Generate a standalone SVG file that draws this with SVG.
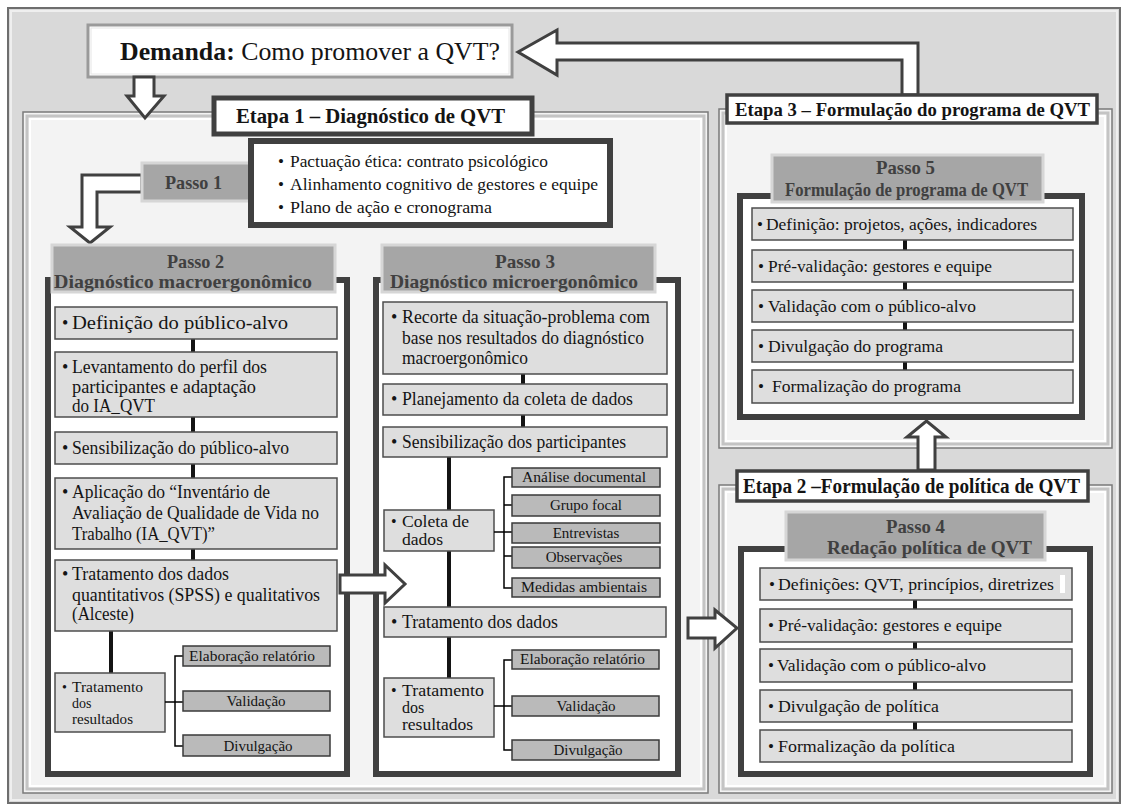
<svg xmlns="http://www.w3.org/2000/svg" width="1127" height="807" viewBox="0 0 1127 807">
<style>
.t{font-family:"Liberation Serif","DejaVu Serif",serif;font-size:18px;fill:#141414}
.s17{font-size:17px}
.s16{font-size:16px}
.s15{font-size:15px}
.s14{font-size:14px}
.b{font-weight:bold}
.h{font-family:"Liberation Serif","DejaVu Serif",serif;font-weight:bold;fill:#404040;font-size:19px}
.row{fill:#dedede;stroke:#4d4d4d;stroke-width:1.5}
.sub{fill:#bababa;stroke:#3a3a3a;stroke-width:1.5}
.hdr{fill:#a6a6a6;stroke:#d6d6d6;stroke-width:3}
.frame{fill:#fff;stroke:#404040;stroke-width:6}
.lbl{fill:#fff;stroke:#404040}
.conn{stroke:#141414;stroke-width:4}
.br{stroke:#000;stroke-width:1.5;fill:none}
.arrow{fill:#fff;stroke:#404040;stroke-width:3;stroke-linejoin:miter}
.panel{fill:#f3f3f3;stroke:#7a7a7a;stroke-width:1.5}
.bev{fill:none;stroke:#c4c4c4;stroke-width:3}
.bevw{fill:none;stroke:#ffffff;stroke-width:2}
</style>

<!-- background -->
<rect x="0" y="0" width="1127" height="807" fill="#ffffff"/>
<rect x="8" y="8" width="1112" height="795" fill="#d9d9d9" stroke="#6e6e6e" stroke-width="2"/>
<rect x="11" y="11" width="1106" height="789" fill="none" stroke="#efefef" stroke-width="2"/>

<!-- Etapa panels -->
<g id="etapa1-panel">
<rect class="panel" x="23" y="112" width="685" height="681"/>
<rect class="bev" x="27" y="116" width="677" height="673"/>
<rect class="bevw" x="30" y="119" width="671" height="667"/>
</g>
<g id="etapa3-panel">
<rect class="panel" x="719" y="109" width="393" height="339"/>
<rect class="bev" x="723" y="113" width="385" height="331"/>
<rect class="bevw" x="726" y="116" width="379" height="325"/>
</g>
<g id="etapa2-panel">
<rect class="panel" x="719" y="485" width="393" height="308"/>
<rect class="bev" x="723" y="489" width="385" height="300"/>
<rect class="bevw" x="726" y="492" width="379" height="294"/>
</g>

<!-- Demanda -->
<g id="demanda">
<rect x="88" y="25" width="424" height="52" fill="#fff" stroke="#9a9a9a" stroke-width="3"/>
<rect x="91" y="28" width="418" height="46" fill="none" stroke="#e6e6e6" stroke-width="1"/>
<text class="t" x="120" y="60" style="font-size:25px" textLength="380" lengthAdjust="spacingAndGlyphs"><tspan class="b">Demanda:</tspan> Como promover a QVT?</text>
</g>

<!-- Etapa labels -->
<g id="etapa1-label">
<rect class="lbl" x="214" y="98" width="318" height="36" stroke-width="5"/>
<text class="t b" x="236" y="123" style="font-size:20px" textLength="269" lengthAdjust="spacingAndGlyphs">Etapa 1  – Diagnóstico de QVT</text>
</g>

<!-- connectors / arrows -->
<g id="connectors">
<polygon class="arrow" points="134,77 154,77 154,96 164,96 145,118 127,96 134,96"/>
<polygon class="arrow" points="518,52 557,30 557,43 918,43 918,95 902,95 902,60 557,60 557,75"/>
<polygon class="arrow" points="142,175 82,175 82,227 70,227 90,243 110,227 97,227 97,192 142,192"/>
<polygon class="arrow" points="918,470 918,437 907,437 926.5,421 946,437 935,437 935,470"/>
</g>

<g id="etapa3-label">
<rect class="lbl" x="727" y="95" width="370" height="28" stroke-width="3.5"/>
<text class="t b" x="735" y="116" style="font-size:19px" textLength="355" lengthAdjust="spacingAndGlyphs">Etapa 3 – Formulação do programa de QVT</text>
</g>
<g id="etapa2-label">
<rect class="lbl" x="737" y="471" width="351" height="30" stroke-width="3.5"/>
<text class="t b" x="743" y="493" style="font-size:20px" textLength="337" lengthAdjust="spacingAndGlyphs">Etapa 2 –Formulação de política de  QVT</text>
</g>

<!-- Passo 1 -->
<g id="passo1">
<rect class="hdr" x="142" y="163" width="125" height="38"/>
<text class="h" x="165" y="189" textLength="57" lengthAdjust="spacingAndGlyphs">Passo 1</text>
</g>
<g id="passo1-itens">
<rect class="frame" x="251" y="141" width="359" height="84"/>
<text class="t s17" x="278" y="167">•</text>
<text class="t s17" x="290" y="167" textLength="258" lengthAdjust="spacingAndGlyphs">Pactuação ética: contrato psicológico</text>
<text class="t s17" x="278" y="190">•</text>
<text class="t s17" x="290" y="190" textLength="308" lengthAdjust="spacingAndGlyphs">Alinhamento cognitivo de gestores e equipe</text>
<text class="t s17" x="278" y="213">•</text>
<text class="t s17" x="290" y="213" textLength="202" lengthAdjust="spacingAndGlyphs">Plano  de ação e cronograma</text>
</g>

<!-- Passo 2 -->
<g id="passo2">
<rect class="frame" x="48" y="280" width="299" height="494"/>
<rect class="hdr" x="52" y="245" width="283" height="47"/>
<text class="h" x="167" y="268" textLength="57" lengthAdjust="spacingAndGlyphs">Passo 2</text>
<text class="h" x="54" y="288" textLength="258" lengthAdjust="spacingAndGlyphs">Diagnóstico  macroergonômico</text>
<line class="conn" x1="193" y1="339" x2="193" y2="560"/>
<line class="conn" x1="111" y1="631" x2="111" y2="673"/>
<rect class="row" x="55" y="307" width="282" height="32"/>
<text class="t" x="62" y="329">•</text><text class="t" x="72" y="329" textLength="216" lengthAdjust="spacingAndGlyphs">Definição do público-alvo</text>
<rect class="row" x="55" y="352" width="282" height="65"/>
<text class="t" x="62" y="373">•</text><text class="t" x="72" y="373" textLength="195" lengthAdjust="spacingAndGlyphs">Levantamento do perfil dos</text>
<text class="t" x="72" y="393" textLength="184" lengthAdjust="spacingAndGlyphs">participantes  e adaptação</text>
<text class="t" x="72" y="412" textLength="83" lengthAdjust="spacingAndGlyphs">do IA_QVT</text>
<rect class="row" x="55" y="432" width="282" height="32"/>
<text class="t" x="62" y="454">•</text><text class="t" x="72" y="454" textLength="217" lengthAdjust="spacingAndGlyphs">Sensibilização do público-alvo</text>
<rect class="row" x="55" y="478" width="282" height="71"/>
<text class="t" x="62" y="498">•</text><text class="t" x="72" y="498" textLength="198" lengthAdjust="spacingAndGlyphs">Aplicação do “Inventário de</text>
<text class="t" x="72" y="519" textLength="247" lengthAdjust="spacingAndGlyphs">Avaliação de Qualidade de Vida no</text>
<text class="t" x="72" y="540" textLength="143" lengthAdjust="spacingAndGlyphs">Trabalho (IA_QVT)”</text>
<rect class="row" x="55" y="560" width="282" height="71"/>
<text class="t" x="62" y="580">•</text><text class="t" x="72" y="580" textLength="157" lengthAdjust="spacingAndGlyphs">Tratamento dos dados</text>
<text class="t" x="72" y="601" textLength="248" lengthAdjust="spacingAndGlyphs">quantitativos (SPSS) e qualitativos</text>
<text class="t" x="72" y="620" textLength="62" lengthAdjust="spacingAndGlyphs">(Alceste)</text>
<rect class="row" x="55" y="673" width="110" height="59"/>
<text class="t s14" x="62" y="692">•</text><text class="t s14" x="72" y="692" textLength="71" lengthAdjust="spacingAndGlyphs">Tratamento</text>
<text class="t s14" x="72" y="708">dos</text>
<text class="t s14" x="72" y="724" textLength="61" lengthAdjust="spacingAndGlyphs">resultados</text>
<path class="br" d="M165,702 H183 M183,656 H175 V746 H183"/>
<rect class="sub" x="183" y="646" width="147" height="20"/>
<text class="t s15" x="189" y="661" textLength="126" lengthAdjust="spacingAndGlyphs">Elaboração relatório</text>
<rect class="sub" x="183" y="691" width="147" height="20"/>
<text class="t s15" x="256" y="706" text-anchor="middle">Validação</text>
<rect class="sub" x="183" y="735" width="147" height="21"/>
<text class="t s15" x="258" y="751" text-anchor="middle">Divulgação</text>
</g>

<!-- Passo 3 -->
<g id="passo3">
<rect class="frame" x="376" y="280" width="302" height="494"/>
<rect class="hdr" x="382" y="245" width="273" height="47"/>
<text class="h" x="495" y="268" textLength="60" lengthAdjust="spacingAndGlyphs">Passo 3</text>
<text class="h" x="390" y="288" textLength="248" lengthAdjust="spacingAndGlyphs">Diagnóstico microergonômico</text>
<line class="conn" x1="523" y1="374" x2="523" y2="427"/>
<line class="conn" x1="449" y1="457" x2="449" y2="678"/>
<rect class="row" x="383" y="302" width="284" height="72"/>
<text class="t" x="391" y="323">•</text><text class="t" x="402" y="323" textLength="248" lengthAdjust="spacingAndGlyphs">Recorte  da situação-problema com</text>
<text class="t" x="402" y="344" textLength="242" lengthAdjust="spacingAndGlyphs">base nos resultados do diagnóstico</text>
<text class="t" x="402" y="364" textLength="126" lengthAdjust="spacingAndGlyphs">macroergonômico</text>
<rect class="row" x="383" y="384" width="284" height="31"/>
<text class="t" x="391" y="405">•</text><text class="t" x="402" y="405" textLength="231" lengthAdjust="spacingAndGlyphs">Planejamento da coleta de dados</text>
<rect class="row" x="383" y="427" width="284" height="30"/>
<text class="t" x="391" y="448">•</text><text class="t" x="402" y="448" textLength="224" lengthAdjust="spacingAndGlyphs">Sensibilização dos participantes</text>
<rect class="row" x="384" y="510" width="110" height="41"/>
<text class="t s16" x="391" y="527">•</text><text class="t s16" x="402" y="527" textLength="67" lengthAdjust="spacingAndGlyphs">Coleta de</text>
<text class="t s16" x="402" y="545" textLength="41" lengthAdjust="spacingAndGlyphs">dados</text>
<path class="br" d="M494,532 H512 M512,477 H504 V588 H512 M504,505 H512 M504,556 H512"/>
<rect class="sub" x="512" y="468" width="148" height="19"/>
<text class="t s15" x="584" y="482" text-anchor="middle" textLength="124" lengthAdjust="spacingAndGlyphs">Análise documental</text>
<rect class="sub" x="512" y="495" width="148" height="21"/>
<text class="t s15" x="586" y="510" text-anchor="middle">Grupo focal</text>
<rect class="sub" x="512" y="523" width="148" height="20"/>
<text class="t s15" x="586" y="538" text-anchor="middle">Entrevistas</text>
<rect class="sub" x="512" y="547" width="148" height="21"/>
<text class="t s15" x="584" y="562" text-anchor="middle">Observações</text>
<rect class="sub" x="512" y="578" width="148" height="19"/>
<text class="t s15" x="584" y="592" text-anchor="middle" textLength="126" lengthAdjust="spacingAndGlyphs">Medidas ambientais</text>
<rect class="row" x="384" y="607" width="282" height="30"/>
<text class="t" x="391" y="628">•</text><text class="t" x="402" y="628" textLength="156" lengthAdjust="spacingAndGlyphs">Tratamento dos dados</text>
<rect class="row" x="384" y="678" width="110" height="59"/>
<text class="t s16" x="391" y="696">•</text><text class="t s16" x="402" y="696" textLength="82" lengthAdjust="spacingAndGlyphs">Tratamento</text>
<text class="t s16" x="402" y="713">dos</text>
<text class="t s16" x="402" y="730" textLength="71" lengthAdjust="spacingAndGlyphs">resultados</text>
<path class="br" d="M494,706 H512 M512,660 H504 V750 H512"/>
<rect class="sub" x="512" y="650" width="147" height="19"/>
<text class="t s15" x="520" y="664" textLength="125" lengthAdjust="spacingAndGlyphs">Elaboração relatório</text>
<rect class="sub" x="512" y="696" width="147" height="20"/>
<text class="t s15" x="586" y="711" text-anchor="middle">Validação</text>
<rect class="sub" x="512" y="740" width="147" height="20"/>
<text class="t s15" x="588" y="755" text-anchor="middle">Divulgação</text>
</g>

<!-- Passo 5 -->
<g id="passo5">
<rect class="frame" x="740" y="196" width="342" height="221"/>
<rect class="hdr" x="772" y="155" width="271" height="47"/>
<text class="h" x="876" y="174" textLength="59" lengthAdjust="spacingAndGlyphs">Passo 5</text>
<text class="h s17" x="785" y="196" textLength="243" lengthAdjust="spacingAndGlyphs">Formulação de programa de QVT</text>
<line class="conn" x1="905" y1="240" x2="905" y2="370"/>
<rect class="row" x="752" y="208" width="321" height="32"/>
<text class="t s17" x="757" y="230">•</text><text class="t s17" x="766" y="230" textLength="271" lengthAdjust="spacingAndGlyphs">Definição: projetos, ações, indicadores</text>
<rect class="row" x="752" y="250" width="321" height="32"/>
<text class="t s17" x="758" y="272">•</text><text class="t s17" x="768" y="272" textLength="224" lengthAdjust="spacingAndGlyphs">Pré-validação: gestores e equipe</text>
<rect class="row" x="752" y="290" width="321" height="32"/>
<text class="t s17" x="758" y="312">•</text><text class="t s17" x="768" y="312" textLength="208" lengthAdjust="spacingAndGlyphs">Validação com o público-alvo</text>
<rect class="row" x="752" y="330" width="321" height="32"/>
<text class="t s17" x="758" y="352">•</text><text class="t s17" x="768" y="352" textLength="175" lengthAdjust="spacingAndGlyphs">Divulgação do programa</text>
<rect class="row" x="752" y="370" width="321" height="33"/>
<text class="t s17" x="758" y="392">•</text><text class="t s17" x="772" y="392" textLength="189" lengthAdjust="spacingAndGlyphs">Formalização do programa</text>
</g>

<!-- Passo 4 -->
<g id="passo4">
<rect class="frame" x="741" y="549" width="349" height="225"/>
<rect class="hdr" x="786" y="512" width="259" height="48"/>
<text class="h" x="886" y="533" textLength="59" lengthAdjust="spacingAndGlyphs">Passo 4</text>
<text class="h" x="827" y="554" textLength="205" lengthAdjust="spacingAndGlyphs">Redação política de QVT</text>
<line class="conn" x1="915" y1="600" x2="915" y2="730"/>
<rect class="row" x="760" y="568" width="312" height="32"/>
<rect x="1060" y="575" width="5" height="18" fill="#ffffff"/>
<text class="t s17" x="769" y="590">•</text><text class="t s17" x="778" y="590" textLength="276" lengthAdjust="spacingAndGlyphs">Definições: QVT, princípios, diretrizes</text>
<rect class="row" x="760" y="609" width="312" height="33"/>
<text class="t s17" x="768" y="631">•</text><text class="t s17" x="778" y="631" textLength="224" lengthAdjust="spacingAndGlyphs">Pré-validação: gestores e equipe</text>
<rect class="row" x="760" y="649" width="312" height="33"/>
<text class="t s17" x="768" y="671">•</text><text class="t s17" x="777" y="671" textLength="209" lengthAdjust="spacingAndGlyphs">Validação com o público-alvo</text>
<rect class="row" x="760" y="690" width="312" height="32"/>
<text class="t s17" x="768" y="712">•</text><text class="t s17" x="778" y="712" textLength="161" lengthAdjust="spacingAndGlyphs">Divulgação de  política</text>
<rect class="row" x="760" y="730" width="312" height="32"/>
<text class="t s17" x="768" y="752">•</text><text class="t s17" x="778" y="752" textLength="177" lengthAdjust="spacingAndGlyphs">Formalização  da política</text>
</g>

<!-- horizontal flow arrows (drawn over frames) -->
<g id="flow-arrows">
<polygon class="arrow" points="340,575 385,575 385,565 405,584 385,603 385,593 340,593"/>
<polygon class="arrow" points="688,618 715,618 715,610 737,628 715,648 715,638 688,638"/>
</g>
</svg>
